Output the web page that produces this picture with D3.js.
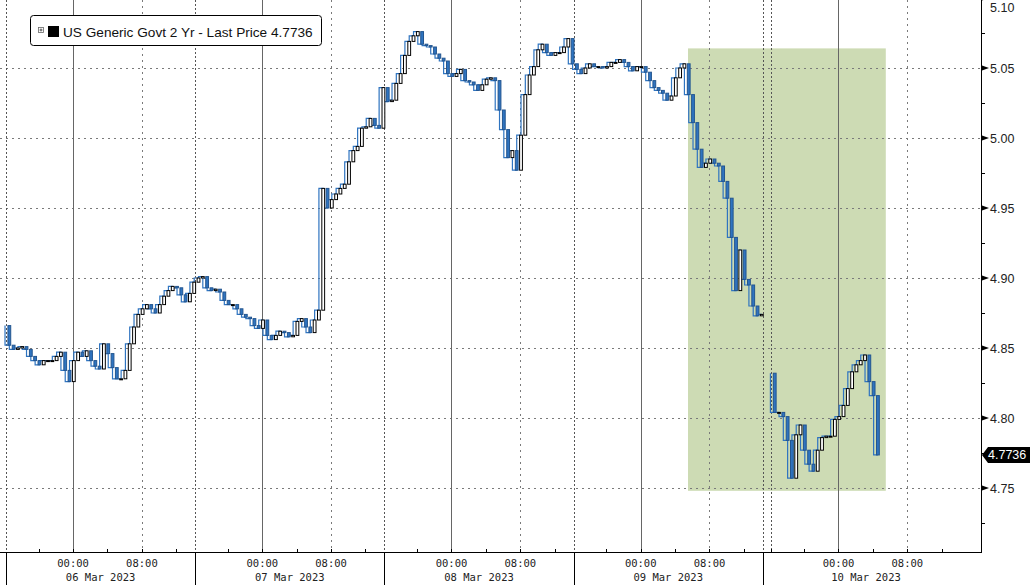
<!DOCTYPE html>
<html>
<head>
<meta charset="utf-8">
<script src="https://cdn.jsdelivr.net/npm/d3@7"></script>
<style>
  html, body { margin: 0; padding: 0; background: #fff; }
  svg { display: block; }
</style>
</head>
<body>
<svg id="chart" width="1030" height="585"></svg>
<script>
// ---------------- DATA ----------------
// Price readings every 30 minutes of trading time (hours from the 06 Mar session open)
const stepHours = 0.5;
const mar06 = [4.866, 4.852, 4.849, 4.850, 4.851, 4.849, 4.844, 4.841, 4.838, 4.841, 4.841, 4.841, 4.844, 4.847, 4.834, 4.826, 4.841, 4.847, 4.844, 4.848, 4.841, 4.837, 4.835, 4.853, 4.846, 4.836, 4.828, 4.828, 4.834, 4.853, 4.865, 4.874, 4.878, 4.881, 4.878, 4.875, 4.881, 4.887, 4.891, 4.894, 4.893, 4.888, 4.883, 4.889];
const mar07 = [4.897, 4.900, 4.901, 4.893, 4.891, 4.892, 4.890, 4.884, 4.881, 4.881, 4.878, 4.874, 4.872, 4.871, 4.866, 4.864, 4.870, 4.859, 4.856, 4.859, 4.862, 4.861, 4.858, 4.859, 4.869, 4.871, 4.865, 4.861, 4.870, 4.877, 4.964, 4.950, 4.956, 4.960, 4.964, 4.967, 4.983, 4.991, 4.994, 5.007, 5.008, 5.014, 5.009, 5.007];
const mar08 = [5.036, 5.026, 5.027, 5.039, 5.046, 5.059, 5.069, 5.073, 5.076, 5.067, 5.066, 5.065, 5.060, 5.057, 5.055, 5.046, 5.044, 5.046, 5.049, 5.041, 5.040, 5.038, 5.034, 5.038, 5.042, 5.043, 5.041, 5.020, 5.006, 4.986, 4.991, 4.977, 5.002, 5.031, 5.045, 5.051, 5.063, 5.067, 5.061, 5.059, 5.061, 5.061, 5.065, 5.071];
const mar09 = [5.053, 5.049, 5.046, 5.050, 5.053, 5.051, 5.051, 5.050, 5.051, 5.054, 5.054, 5.056, 5.054, 5.051, 5.048, 5.051, 5.051, 5.047, 5.041, 5.036, 5.034, 5.032, 5.027, 5.030, 5.043, 5.050, 5.053, 5.031, 5.011, 4.992, 4.979, 4.982, 4.985, 4.982, 4.980, 4.969, 4.957, 4.929, 4.891, 4.920, 4.899, 4.895, 4.880, 4.873, 4.874];
const mar10 = [4.832, 4.804, 4.804, 4.801, 4.784, 4.757, 4.788, 4.795, 4.777, 4.767, 4.762, 4.777, 4.786, 4.787, 4.787, 4.799, 4.801, 4.809, 4.821, 4.833, 4.838, 4.841, 4.845, 4.826, 4.816, 4.7736];
const dayStartHours = [0, 22, 44, 66, 89];

const lastPrice = 4.7736;
const legendText = "US Generic Govt 2 Yr - Last Price 4.7736";

// Axis / tick data (trading-time hours)
const sessionBreaks = [0, 22, 44, 66, 88];
const extraBreaks = [89];
const midnights = [7.8, 29.8, 51.8, 73.8, 96.8];
const dateLabels = ["06 Mar 2023", "07 Mar 2023", "08 Mar 2023", "09 Mar 2023", "10 Mar 2023"];
const hourLabels = ["00:00", "08:00"];
const yTicks = [4.75, 4.80, 4.85, 4.90, 4.95, 5.00, 5.05, 5.10];
const yMinorTicks = [4.725, 4.775, 4.825, 4.875, 4.925, 4.975, 5.025, 5.075];
const highlightHours = [79.3, 102.3];
const highlightPrices = [4.748, 5.064];

// ---------------- SCALES ----------------
const svg = d3.select("#chart");
const plotRight = 981, axisY = 552;
const x = d3.scaleLinear().domain([-0.7, 113.37]).range([0, plotRight]);
const y = d3.scaleLinear().domain([4.75, 5.10]).range([488, -2]);

// ---------------- HIGHLIGHT ----------------
svg.append("rect")
  .attr("x", x(highlightHours[0])).attr("y", y(highlightPrices[1]))
  .attr("width", x(highlightHours[1]) - x(highlightHours[0]))
  .attr("height", y(highlightPrices[0]) - y(highlightPrices[1]))
  .attr("fill", "#cddbb4");

// ---------------- GRID ----------------
const grid = svg.append("g");
grid.selectAll("line.h").data(yTicks).join("line")
  .attr("x1", 0).attr("x2", plotRight)
  .attr("y1", d => Math.round(y(d)) + 0.5).attr("y2", d => Math.round(y(d)) + 0.5)
  .attr("stroke", "#7a7a7a").attr("stroke-width", 1).attr("stroke-dasharray", "2,4");

// 08:00 dotted
grid.selectAll("line.e").data(midnights.map(m => m + 8)).join("line")
  .attr("x1", d => Math.round(x(d)) + 0.5).attr("x2", d => Math.round(x(d)) + 0.5)
  .attr("y1", 0).attr("y2", axisY)
  .attr("stroke", "#7a7a7a").attr("stroke-dasharray", "2,4");
// session breaks dotted
grid.selectAll("line.s").data(sessionBreaks.concat(extraBreaks)).join("line")
  .attr("x1", d => Math.round(x(d)) + 0.5).attr("x2", d => Math.round(x(d)) + 0.5)
  .attr("y1", 0).attr("y2", axisY)
  .attr("stroke", "#555").attr("stroke-dasharray", "2,2");
// midnight solid
grid.selectAll("line.m").data(midnights).join("line")
  .attr("x1", d => Math.round(x(d)) + 0.5).attr("x2", d => Math.round(x(d)) + 0.5)
  .attr("y1", 0).attr("y2", axisY)
  .attr("stroke", "#666").attr("stroke-width", 1);

// ---------------- SERIES (candles) ----------------
function toPoints(arr, start) { return arr.map((v, i) => ({ h: start + i * stepHours, v })); }
const segA = [].concat(
  toPoints(mar06, dayStartHours[0]), toPoints(mar07, dayStartHours[1]),
  toPoints(mar08, dayStartHours[2]), toPoints(mar09, dayStartHours[3]));
const segB = toPoints(mar10, dayStartHours[4]);

// thin blue trace under the candles
const line = d3.line().x(d => x(d.h) - 1).y(d => y(d.v)).curve(d3.curveStepBefore);
[segA, segB].forEach(seg => {
  svg.append("path").datum(seg).attr("d", line)
    .attr("fill", "none").attr("stroke", "#2f74c0").attr("stroke-width", 1.2);
});

const candles = [];
[segA, segB].forEach(seg => {
  for (let i = 1; i < seg.length; i++) {
    candles.push({ h: seg[i].h, o: seg[i - 1].v, c: seg[i].v });
  }
});

const cw = 2.8;
const cg = svg.append("g");
cg.selectAll("rect").data(candles).join("rect")
  .attr("x", d => x(d.h) - cw / 2 - 1)
  .attr("y", d => y(Math.max(d.o, d.c)))
  .attr("width", cw)
  .attr("height", d => Math.max(1, Math.abs(y(d.o) - y(d.c))))
  .attr("fill", d => d.c >= d.o ? "#ffffff" : "#2f74c0")
  .attr("stroke", d => d.c >= d.o ? "#000" : "#23558f")
  .attr("stroke-width", 1);

// ---------------- AXES ----------------
const ax = svg.append("g");
ax.append("line").attr("x1", plotRight + 0.5).attr("x2", plotRight + 0.5)
  .attr("y1", 0).attr("y2", axisY).attr("stroke", "#000");
ax.append("line").attr("x1", 0).attr("x2", plotRight + 1)
  .attr("y1", axisY + 0.5).attr("y2", axisY + 0.5).attr("stroke", "#000");

ax.selectAll("path.tri").data(yTicks).join("path")
  .attr("d", d => {
    const yy = y(d);
    return `M${plotRight + 1},${yy - 2.5} L${plotRight + 8},${yy} L${plotRight + 1},${yy + 2.5} Z`;
  })
  .attr("fill", "#000");
ax.selectAll("line.mn").data(yMinorTicks).join("line")
  .attr("x1", plotRight).attr("x2", plotRight + 4)
  .attr("y1", d => Math.round(y(d)) + 0.5).attr("y2", d => Math.round(y(d)) + 0.5)
  .attr("stroke", "#000");
ax.selectAll("text.yl").data(yTicks).join("text")
  .attr("x", plotRight + 9).attr("y", d => Math.max(y(d), 7))
  .attr("dy", "0.36em")
  .attr("font-family", "Liberation Sans, Arial, sans-serif")
  .attr("font-size", 12.5).attr("fill", "#222")
  .text(d => d3.format(".2f")(d));

// last price tag
const ly = y(lastPrice);
ax.append("path")
  .attr("d", `M${plotRight + 1},${ly} L${plotRight + 7},${ly - 8} L1030,${ly - 8} L1030,${ly + 8} L${plotRight + 7},${ly + 8} Z`)
  .attr("fill", "#000");
ax.append("text").attr("x", plotRight + 7).attr("y", ly).attr("dy", "0.36em")
  .attr("font-family", "Liberation Sans, Arial, sans-serif").attr("font-size", 12.5)
  .attr("fill", "#fff").text(lastPrice.toFixed(4));

// bottom ticks every 4 hours
const tickHours = [];
midnights.forEach(m => [-4, 0, 4, 8, 12].forEach(o => tickHours.push(m + o)));
ax.selectAll("line.bt").data(tickHours.concat(extraBreaks)).join("line")
  .attr("x1", d => Math.round(x(d)) + 0.5).attr("x2", d => Math.round(x(d)) + 0.5)
  .attr("y1", axisY - 3).attr("y2", axisY)
  .attr("stroke", "#000");
ax.selectAll("line.sb").data(sessionBreaks).join("line")
  .attr("x1", d => Math.round(x(d)) + 0.5).attr("x2", d => Math.round(x(d)) + 0.5)
  .attr("y1", axisY).attr("y2", 585)
  .attr("stroke", "#000");

const monoFont = "DejaVu Sans Mono, monospace";
midnights.forEach((m, i) => {
  [0, 8].forEach((o, j) => {
    ax.append("text").attr("x", x(m + o)).attr("y", 567)
      .attr("text-anchor", "middle").attr("font-family", monoFont)
      .attr("font-size", 10.5).attr("fill", "#222").text(hourLabels[j]);
  });
  ax.append("text").attr("x", x(m + 3.2)).attr("y", 581)
    .attr("text-anchor", "middle").attr("font-family", monoFont)
    .attr("font-size", 10.5).attr("fill", "#222").text(dateLabels[i]);
});

// ---------------- LEGEND ----------------
const lg = svg.append("g");
lg.append("rect").attr("x", 30.5).attr("y", 15.5).attr("width", 291).attr("height", 30)
  .attr("rx", 3).attr("fill", "#fff").attr("stroke", "#000");
lg.append("rect").attr("x", 38.5).attr("y", 27.5).attr("width", 5).attr("height", 5)
  .attr("fill", "#fff").attr("stroke", "#666").attr("stroke-width", 0.8);
lg.append("line").attr("x1", 39.5).attr("x2", 42.5).attr("y1", 30).attr("y2", 30).attr("stroke", "#333").attr("stroke-width", 0.8);
lg.append("line").attr("x1", 41).attr("x2", 41).attr("y1", 28.5).attr("y2", 31.5).attr("stroke", "#333").attr("stroke-width", 0.8);
lg.append("rect").attr("x", 48).attr("y", 26).attr("width", 11).attr("height", 11).attr("fill", "#000");
const lt = lg.append("text").attr("x", 63).attr("y", 36.5)
  .attr("font-family", "Liberation Sans, Arial, sans-serif").attr("font-size", 13.5)
  .attr("fill", "#111").text(legendText);
const tl = lt.node().getComputedTextLength();
lt.attr("font-size", 13.5 * 250 / tl);
</script>
</body>
</html>
